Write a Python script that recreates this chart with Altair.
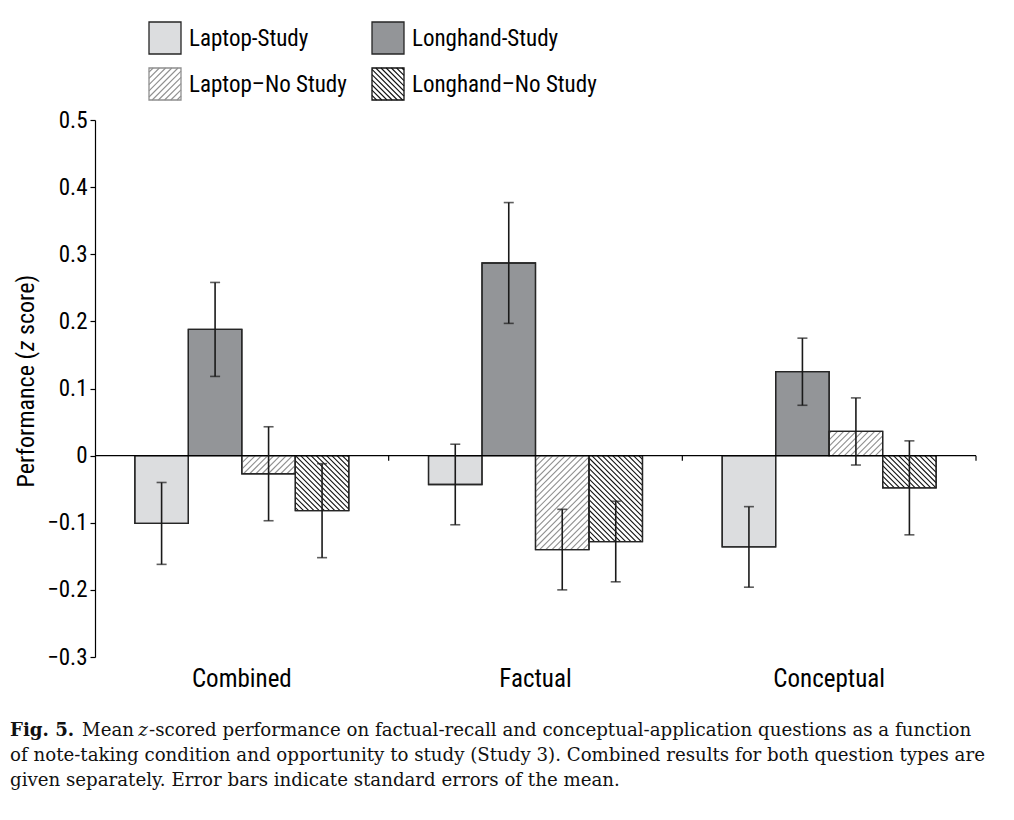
import altair as alt
import pandas as pd

# ---------------- data ----------------
categories = ["Combined", "Factual", "Conceptual"]
conditions = ["Laptop-Study", "Longhand-Study", "Laptop\u2013No Study", "Longhand\u2013No Study"]

laptop_study = [-0.101, -0.043, -0.136]
longhand_study = [0.188, 0.287, 0.125]
laptop_no_study = [-0.027, -0.140, 0.036]
longhand_no_study = [-0.082, -0.128, -0.048]

laptop_study_se = [0.061, 0.060, 0.060]
longhand_study_se = [0.070, 0.090, 0.050]
laptop_no_study_se = [0.070, 0.060, 0.050]
longhand_no_study_se = [0.070, 0.060, 0.070]

y_ticks = [-0.3, -0.2, -0.1, 0, 0.1, 0.2, 0.3, 0.4, 0.5]
y_domain = [-0.3, 0.5]

y_title_parts = ["Performance (", "z", "score)"]
caption_first = ["Fig. 5.", "Mean", "z",
                 "-scored performance on factual-recall and conceptual-application questions as a function"]
caption_lines = [
    "of note-taking condition and opportunity to study (Study 3). Combined results for both question types are",
    "given separately. Error bars indicate standard errors of the mean.",
]

# ---------------- layout / style ----------------
W, H = 881, 537
PL, PT = 87, 112
PAD_IN = 0.2714
SANS = "Roboto Condensed, Liberation Sans Narrow, Arial Narrow, DejaVu Sans Condensed, Roboto, sans-serif"
SERIF = "DejaVu Serif, Liberation Serif, serif"
CAP_FS = 18.2
EDGE = "#262626"
FILLS = ["#dcdddf", "#939598", "#ffffff", "#ffffff"]
HATCH_COL = {2: "#8f8f8f", 3: "#111111"}
HATCH_SP = {2: 6.2, 3: 5.2}
HATCH_DIR = {2: "/", 3: "\\"}

means = [laptop_study, longhand_study, laptop_no_study, longhand_no_study]
ses = [laptop_study_se, longhand_study_se, laptop_no_study_se, longhand_no_study_se]

rows = []
for si, cond in enumerate(conditions):
    for ci, cat in enumerate(categories):
        v, s = means[si][ci], ses[si][ci]
        rows.append(dict(category=cat, condition=cond, value=v, lo=v - s, hi=v + s, zero=0.0, ci=ci, si=si))
df = pd.DataFrame(rows)

# ---------------- hatch segments (in data space of the scales) ----------------
bw = (1 - PAD_IN) / 4.0
po = PAD_IN / 2.0


def to_px(xd, yd):
    return xd * W / 3.0, (y_domain[1] - yd) * H / (y_domain[1] - y_domain[0])


def to_data(X, Y):
    return X * 3.0 / W, y_domain[1] - Y * (y_domain[1] - y_domain[0]) / H


def hatch_segments(X0, X1, Yt, Yb, sp, direction):
    segs = []
    if direction == "/":
        k0 = int((X0 + Yt) // sp) - 1
        k1 = int((X1 + Yb) // sp) + 2
        for k in range(k0, k1):
            c = k * sp
            xa, xb = max(X0, c - Yb), min(X1, c - Yt)
            if xb - xa > 0.8:
                segs.append((xa, c - xa, xb, c - xb))
    else:
        k0 = int((Yt - X1) // sp) - 1
        k1 = int((Yb - X0) // sp) + 2
        for k in range(k0, k1):
            c = k * sp
            xa, xb = max(X0, Yt - c), min(X1, Yb - c)
            if xb - xa > 0.8:
                segs.append((xa, xa + c, xb, xb + c))
    return segs


hatch_rows = []
for r in rows:
    if r["si"] < 2:
        continue
    x0d = r["ci"] + po + r["si"] * bw
    x1d = x0d + bw
    X0, Yt = to_px(x0d, max(r["value"], 0))
    X1, Yb = to_px(x1d, min(r["value"], 0))
    for (xa, ya, xb, yb) in hatch_segments(X0, X1, Yt, Yb, HATCH_SP[r["si"]], HATCH_DIR[r["si"]]):
        a = to_data(xa, ya)
        b = to_data(xb, yb)
        hatch_rows.append(dict(si=r["si"], hx1=a[0], hy1=a[1], hx2=b[0], hy2=b[1]))
hatch_df = pd.DataFrame(hatch_rows)

# ---------------- scales / axes ----------------
x_band = alt.Scale(domain=categories, paddingInner=PAD_IN, paddingOuter=PAD_IN / 2)
x_off = alt.Scale(domain=conditions, paddingInner=0, paddingOuter=0)
y_scale = alt.Scale(domain=y_domain, nice=False, zero=False)
hx_scale = alt.Scale(domain=[0, 3], nice=False, zero=False)

Y_AXIS = alt.Axis(values=y_ticks, format=".1~f", domain=True, domainColor="#000", domainWidth=1.2,
                  tickColor="#000", tickWidth=1.2, tickSize=5, labelFont=SANS, labelFontSize=23,
                  labelColor="#000", labelPadding=3, title=None, grid=False, orient="left")

x_enc_axis = alt.X(
    "category:N", scale=x_band, sort=categories, title=None,
    axis=alt.Axis(domain=False, ticks=False, labelAngle=0, labelFont=SANS, labelFontSize=25,
                  labelColor="#000", labelPadding=9),
)
x_enc = alt.X("category:N", scale=x_band, sort=categories, axis=None)
xo_enc = alt.XOffset("condition:N", scale=x_off, sort=conditions)


def yq(field):
    return alt.Y(field, scale=y_scale, axis=Y_AXIS, title=None, stack=None)


bars = alt.Chart(df).mark_bar(stroke=EDGE, strokeWidth=1.3).encode(
    x=x_enc_axis,
    xOffset=xo_enc,
    y=yq("value:Q"),
    y2="zero:Q",
    fill=alt.Fill("condition:N", scale=alt.Scale(domain=conditions, range=FILLS), legend=None),
)

hatch_layers = []
for si in (2, 3):
    hatch_layers.append(
        alt.Chart(hatch_df[hatch_df.si == si]).mark_rule(color=HATCH_COL[si], strokeWidth=1.1).encode(
            x=alt.X("hx1:Q", scale=hx_scale, axis=None),
            x2="hx2:Q",
            y=yq("hy1:Q"),
            y2="hy2:Q",
        )
    )
bound_df = pd.DataFrame({"b": [1, 2, 3], "t0": [0.0] * 3, "t1": [-5 * (y_domain[1] - y_domain[0]) / H] * 3})
bound_ticks = alt.Chart(bound_df).mark_rule(color="#000", strokeWidth=1.2).encode(
    x=alt.X("b:Q", scale=hx_scale, axis=None),
    y=yq("t0:Q"),
    y2="t1:Q",
)
hatch_part = alt.layer(*hatch_layers, bound_ticks)

outline = alt.Chart(df).mark_bar(stroke=EDGE, strokeWidth=1.3, fillOpacity=0).encode(
    x=x_enc, xOffset=xo_enc, y=yq("value:Q"), y2="zero:Q",
)
zero_line = alt.Chart(pd.DataFrame({"z": [0.0]})).mark_rule(color="#000", strokeWidth=1.2).encode(
    y=yq("z:Q")
)
err = alt.Chart(df).mark_rule(color="#1a1a1a", strokeWidth=1.6).encode(
    x=x_enc, xOffset=xo_enc, y=yq("lo:Q"), y2="hi:Q"
)
cap_lo = alt.Chart(df).mark_tick(color="#1a1a1a", size=10, thickness=1.6).encode(
    x=x_enc, xOffset=xo_enc, y=yq("lo:Q")
)
cap_hi = alt.Chart(df).mark_tick(color="#1a1a1a", size=10, thickness=1.6).encode(
    x=x_enc, xOffset=xo_enc, y=yq("hi:Q")
)
top_part = alt.layer(outline, zero_line, err, cap_lo, cap_hi)

one = pd.DataFrame({"a": [0]})

# ---------------- y-axis title (with italic z) ----------------
TFS = 24
TX, ZY = 27 - 95, 346 - 120
title_layers = [
    alt.Chart(one).mark_text(font=SANS, fontSize=TFS, angle=270, align="right", baseline="middle",
                             color="#000").encode(x=alt.value(TX), y=alt.value(ZY + 6),
                                                  text=alt.value(y_title_parts[0])),
    alt.Chart(one).mark_text(font=SANS, fontSize=TFS, angle=270, align="center", baseline="middle",
                             fontStyle="italic", color="#000").encode(x=alt.value(TX), y=alt.value(ZY),
                                                                      text=alt.value(y_title_parts[1])),
    alt.Chart(one).mark_text(font=SANS, fontSize=TFS, angle=270, align="left", baseline="middle",
                             color="#000").encode(x=alt.value(TX), y=alt.value(ZY - 11),
                                                  text=alt.value(y_title_parts[2])),
]

# ---------------- legend (hand-built, placed above plot) ----------------
SQ = 32
legend_pos = [(54, -98), (277, -98), (54, -52), (277, -52)]
legend_stroke = [EDGE, EDGE, "#8f8f8f", "#111111"]
legend_layers = []
for si, cond in enumerate(conditions):
    lx, ly = legend_pos[si]
    legend_layers.append(
        alt.Chart(one).mark_rect(fill=FILLS[si], stroke=legend_stroke[si], strokeWidth=1.3).encode(
            x=alt.value(lx), x2=alt.value(lx + SQ), y=alt.value(ly), y2=alt.value(ly + SQ)
        )
    )
    if si >= 2:
        for (xa, ya, xb, yb) in hatch_segments(lx, lx + SQ, ly, ly + SQ, HATCH_SP[si], HATCH_DIR[si]):
            legend_layers.append(
                alt.Chart(one).mark_rule(color=HATCH_COL[si], strokeWidth=1.1).encode(
                    x=alt.value(xa), x2=alt.value(xb), y=alt.value(ya), y2=alt.value(yb)
                )
            )
    legend_layers.append(
        alt.Chart(one).mark_text(font=SANS, fontSize=23, align="left", baseline="middle", color="#000").encode(
            x=alt.value(lx + SQ + 8), y=alt.value(ly + SQ / 2 + 1), text=alt.value(cond)
        )
    )

# ---------------- caption ----------------
cap_layers = []
CY = 611


def cap_text(txt, x, y, **kw):
    return alt.Chart(one).mark_text(font=SERIF, fontSize=CAP_FS, baseline="middle",
                                    color="#111", **kw).encode(
        x=alt.value(x), y=alt.value(y), text=alt.value(txt))


cap_layers.append(cap_text(caption_first[0], 10 - 95, CY, fontWeight="bold", align="left"))
cap_layers.append(cap_text(caption_first[1], 134 - 95, CY, align="right"))
cap_layers.append(cap_text(caption_first[2], 143 - 95, CY, fontStyle="italic", align="center"))
cap_layers.append(cap_text(caption_first[3], 149 - 95, CY, align="left"))
for i, line in enumerate(caption_lines):
    cap_layers.append(cap_text(line, 10 - 95, CY + 25 * (i + 1), align="left"))

chart = alt.layer(
    bars, hatch_part, top_part, *title_layers, *legend_layers, *cap_layers
).resolve_scale(x="independent", xOffset="independent").properties(
    width=W, height=H,
    background="white",
    autosize=alt.AutoSizeParams(type="none"),
    padding={"left": PL, "top": PT, "right": 22, "bottom": 150},
).configure_view(strokeWidth=0, stroke="transparent")

chart.save("out.html", embed_options={"renderer": "svg", "actions": False})
